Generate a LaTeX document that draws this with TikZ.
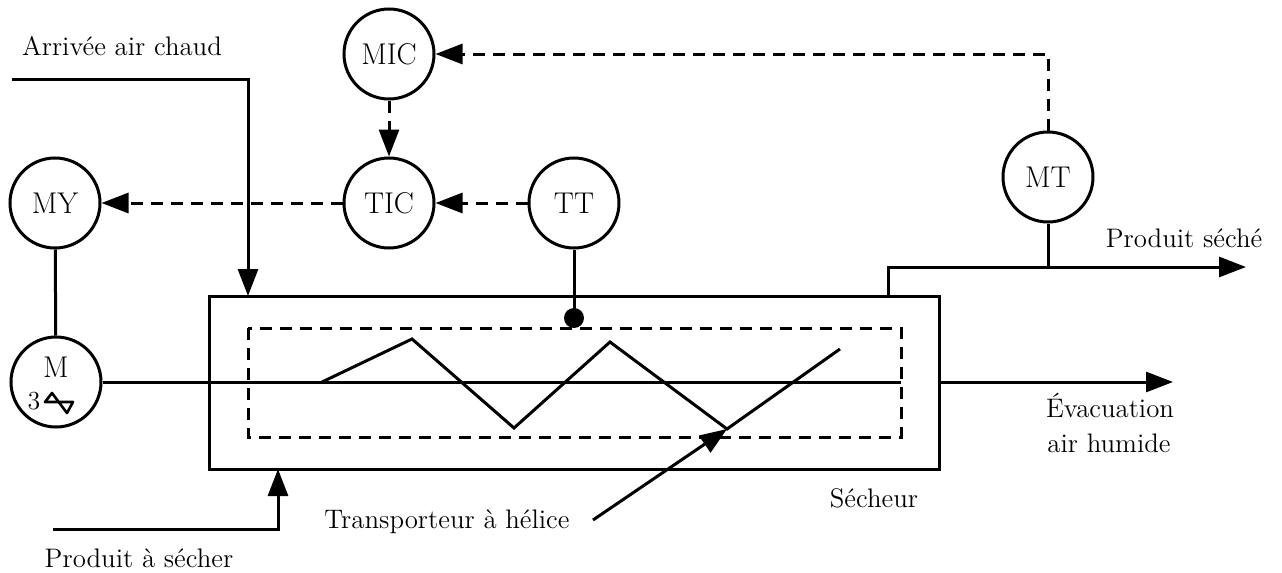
\documentclass[tikz,border=0pt]{standalone}
\usepackage{fontspec}
\usetikzlibrary{arrows.meta}
\begin{document}
\begin{tikzpicture}[x=0.5pt,y=-0.5pt,line width=1.5pt,
  instr/.style={draw,circle,minimum size=45pt,inner sep=0pt,font=\fontsize{15}{18}\selectfont},
  lbl/.style={anchor=base,font=\fontsize{13.4}{16}\selectfont},
  sig/.style={dash pattern=on 6pt off 4pt},
  >={Triangle[length=13.5pt,width=10pt]}]
  \useasboundingbox (0,0) rectangle (1282,573);
  % instruments
  \node[instr] (mic) at (389,54) {MIC};
  \node[instr] (tic) at (389,203) {TIC};
  \node[instr] (tt) at (574,203) {TT};
  \node[instr] (my) at (55,203) {MY};
  \node[instr] (mt) at (1048,177) {MT};
  \node[instr] (mot) at (56,382) {};
  \node[anchor=base,font=\fontsize{15}{18}\selectfont] (motm) at (56,377) {M};
  \node[anchor=base,font=\fontsize{13}{16}\selectfont] (mot3) at (34,409) {3};
  \draw[line width=1.3pt,line join=round] (45,402) -- (52,393) -- (67,413) -- (73,402) -- cycle;
  % secheur
  \draw (209,296) rectangle (939,469);
  \draw[sig] (248,328) rectangle (901,437);
  \draw (mot.east) -- (901,382);
  \draw (322,382) -- (412,339) -- (514,428) -- (610,342) -- (727,429) coordinate (hel) -- (840,349);
  % signals
  \draw[sig,->] (mic) -- (tic);
  \draw[sig,->] (tt) -- (tic);
  \draw[sig,->] (tic) -- (my);
  \draw[sig,->] (mt.north) |- (mic.east);
  \draw (my) -- (mot);
  \draw (tt.south) -- (574,318);
  \fill (574,318) circle (5pt);
  % flows
  \draw[->] (12,79) -| (248,296);
  \draw[->] (53,529) -| (278,469);
  \draw[->] (888,296) |- (1246,267);
  \draw (mt) -- (1048,267);
  \draw[->] (939,382) -- (1173,382);
  \coordinate (tr) at (593,520);
  \draw[->] (tr) -- (hel);
  % labels
  \node[lbl] (arr) at (122,55) {Arrivée air chaud};
  \node[lbl] (prod) at (139,567) {Produit à sécher};
  \node[lbl] (sec) at (1184,247) {Produit séché};
  \node[lbl] (evac) at (1110,417) {Évacuation};
  \node[lbl] (hum) at (1109,452) {air humide};
  \node[lbl] (sech) at (874,507) {Sécheur};
  \node[lbl] (trans) at (447,528) {Transporteur à hélice};
\end{tikzpicture}
\end{document}
